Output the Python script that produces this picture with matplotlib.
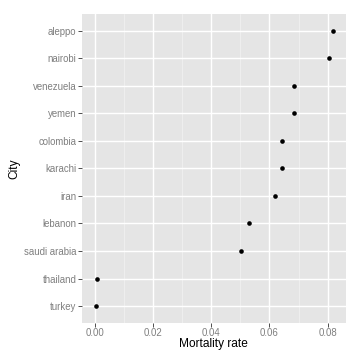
import matplotlib
matplotlib.use("Agg")
import matplotlib.pyplot as plt

plt.rcParams['font.family'] = ['Liberation Sans', 'DejaVu Sans']

cities = ["aleppo", "nairobi", "venezuela", "yemen", "colombia", "karachi",
          "iran", "lebanon", "saudi arabia", "thailand", "turkey"]
mortality = [0.0819, 0.0806, 0.0686, 0.0684, 0.0644, 0.0644,
             0.0620, 0.0529, 0.0503, 0.0009, 0.0006]
xticks = [0.00, 0.02, 0.04, 0.06, 0.08]
xticklabels = ["0.00", "0.02", "0.04", "0.06", "0.08"]
xminor = [0.01, 0.03, 0.05, 0.07]

fig = plt.figure(figsize=(3.6, 3.6), dpi=100)
ax = fig.add_axes([0.2278, 0.1036, 0.7325, 0.8575])
ax.set_facecolor("#E5E5E5")

n = len(cities)
ypos = [n - i for i in range(n)]
ax.scatter(mortality, ypos, s=11, color="black", zorder=3, linewidths=0)

ax.set_xlim(-0.0043, 0.0862)
ax.set_ylim(0.4, n + 0.6)
ax.set_xticks(xticks)
ax.set_xticklabels(xticklabels)
ax.set_xticks(xminor, minor=True)
ax.set_yticks(ypos)
ax.set_yticklabels(cities)

ax.grid(which="major", color="white", linewidth=1.0, zorder=1)
ax.grid(which="minor", axis="x", color="#F2F2F2", linewidth=0.5, zorder=0.5)
ax.set_axisbelow(True)
for s in ax.spines.values():
    s.set_visible(False)

ax.tick_params(axis="both", which="major", length=2.6, width=0.7, color="#4D4D4D",
               labelcolor="#7F7F7F", labelsize=6.9, pad=1.5)
ax.tick_params(axis="x", which="minor", length=0)

ax.set_xlabel("Mortality rate", fontsize=8.6, color="black")
ax.set_ylabel("City", fontsize=8.6, color="black")
ax.yaxis.set_label_coords(-0.235, 0.5)
ax.xaxis.set_label_coords(0.5, -0.05)

fig.savefig("out.png", dpi=100)
